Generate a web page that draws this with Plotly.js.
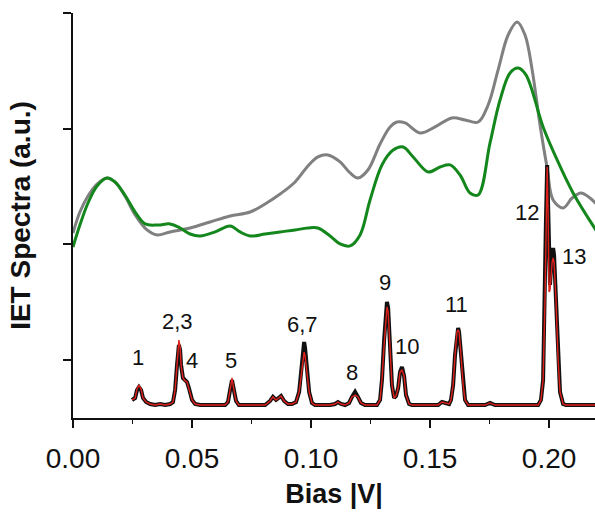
<!DOCTYPE html>
<html>
<head>
<meta charset="utf-8">
<script src="https://cdn.plot.ly/plotly-3.0.1.min.js"></script>
<style>html,body{margin:0;padding:0;background:#fff;}#chart{width:595px;height:515px;}</style>
</head>
<body>
<div id="chart"></div>
<script>
// Gray (upper) smooth spectrum
const grayBias = [0,0.0029,0.0063,0.0101,0.0143,0.0176,0.0218,0.0261,0.0311,0.0353,0.0408,0.0492,0.0576,0.0660,0.0744,0.0807,0.0870,0.0933,0.0987,0.1029,0.1071,0.1122,0.1164,0.1197,0.1239,0.1290,0.1332,0.1361,0.1395,0.1458,0.1521,0.1592,0.1647,0.1702,0.1744,0.1786,0.1828,0.1866,0.1899,0.1929,0.1962,0.1992,0.2017,0.2059,0.2097,0.2134,0.2172,0.2202];
const grayIET = [1.599,1.780,1.919,2.022,2.074,2.040,1.919,1.755,1.625,1.582,1.608,1.642,1.694,1.746,1.780,1.850,1.936,2.040,2.178,2.256,2.273,2.213,2.118,2.074,2.143,2.368,2.515,2.558,2.550,2.463,2.515,2.593,2.576,2.558,2.705,3.008,3.310,3.423,3.310,3.008,2.533,2.161,1.884,1.815,1.901,1.945,1.901,1.841];

// Green smooth spectrum
const greenBias = [0,0.0029,0.0063,0.0101,0.0143,0.0176,0.0218,0.0261,0.0303,0.0357,0.0408,0.0450,0.0492,0.0534,0.0597,0.0660,0.0702,0.0744,0.0807,0.0870,0.0933,0.0987,0.1029,0.1080,0.1122,0.1164,0.1206,0.1248,0.1298,0.1345,0.1387,0.1429,0.1492,0.1542,0.1584,0.1626,0.1668,0.1702,0.1752,0.1794,0.1836,0.1870,0.1903,0.1975,0.2034,0.2101,0.2202];
const greenIET = [1.478,1.668,1.858,2.005,2.074,2.040,1.927,1.780,1.677,1.668,1.677,1.642,1.590,1.573,1.608,1.659,1.608,1.573,1.590,1.608,1.625,1.642,1.642,1.573,1.504,1.487,1.582,1.884,2.187,2.316,2.342,2.256,2.126,2.169,2.187,2.100,1.945,1.927,2.377,2.748,2.982,3.025,2.965,2.515,2.230,1.945,1.608];

// Peak spectrum (black and red share bias values)
const peakBias = [0.0248,0.0261,0.0269,0.0277,0.0286,0.0294,0.0307,0.0324,0.0345,0.0366,0.0387,0.0408,0.0420,0.0429,0.0437,0.0441,0.0445,0.0450,0.0454,0.0462,0.0471,0.0479,0.0487,0.0500,0.0513,0.0534,0.0639,0.0651,0.0660,0.0668,0.0676,0.0685,0.0697,0.0807,0.0828,0.0840,0.0853,0.0866,0.0874,0.0887,0.0903,0.0920,0.0937,0.0950,0.0958,0.0966,0.0971,0.0975,0.0983,0.0992,0.1004,0.1017,0.1080,0.1101,0.1113,0.1126,0.1143,0.1160,0.1172,0.1185,0.1197,0.1210,0.1227,0.1277,0.1290,0.1298,0.1307,0.1315,0.1319,0.1324,0.1332,0.1340,0.1349,0.1357,0.1366,0.1374,0.1382,0.1391,0.1399,0.1412,0.1424,0.1534,0.1550,0.1563,0.1580,0.1588,0.1597,0.1605,0.1613,0.1618,0.1622,0.1630,0.1639,0.1647,0.1660,0.1731,0.1752,0.1773,0.1954,0.1966,0.1975,0.1983,0.1987,0.1992,0.1996,0.2000,0.2004,0.2008,0.2013,0.2017,0.2021,0.2029,0.2038,0.2046,0.2059,0.2071,0.2202];
const peakBlack = [0.156,0.173,0.242,0.268,0.242,0.173,0.138,0.121,0.112,0.121,0.112,0.121,0.138,0.242,0.458,0.588,0.631,0.588,0.458,0.346,0.320,0.311,0.259,0.156,0.121,0.112,0.112,0.138,0.242,0.328,0.242,0.147,0.112,0.112,0.147,0.182,0.156,0.182,0.190,0.147,0.121,0.121,0.138,0.225,0.415,0.605,0.657,0.605,0.415,0.225,0.130,0.112,0.112,0.121,0.138,0.121,0.112,0.130,0.182,0.225,0.182,0.130,0.112,0.112,0.156,0.328,0.674,0.951,1.003,0.951,0.631,0.285,0.173,0.190,0.259,0.398,0.441,0.363,0.199,0.121,0.112,0.112,0.138,0.130,0.121,0.156,0.285,0.545,0.743,0.778,0.743,0.545,0.285,0.156,0.112,0.112,0.130,0.112,0.112,0.156,0.328,1.020,1.711,2.187,1.798,1.193,1.150,1.296,1.435,1.469,1.409,1.020,0.501,0.225,0.121,0.112,0.112];
const peakRed = [0.156,0.173,0.251,0.285,0.251,0.173,0.138,0.121,0.112,0.121,0.112,0.121,0.138,0.242,0.458,0.588,0.674,0.614,0.458,0.346,0.320,0.311,0.259,0.156,0.121,0.112,0.112,0.138,0.242,0.346,0.242,0.147,0.112,0.112,0.147,0.182,0.156,0.182,0.190,0.147,0.121,0.121,0.138,0.225,0.372,0.536,0.570,0.536,0.372,0.225,0.130,0.112,0.112,0.121,0.138,0.121,0.112,0.130,0.182,0.199,0.182,0.130,0.112,0.112,0.156,0.328,0.631,0.916,0.959,0.916,0.631,0.285,0.173,0.190,0.259,0.398,0.415,0.363,0.199,0.121,0.112,0.112,0.138,0.130,0.121,0.156,0.285,0.545,0.743,0.761,0.743,0.545,0.285,0.156,0.112,0.112,0.130,0.112,0.112,0.156,0.328,1.020,1.711,2.169,1.755,1.089,1.106,1.236,1.348,1.383,1.348,1.020,0.501,0.225,0.121,0.112,0.112];

// Peak labels
const peakLabels = ["1","2,3","4","5","6,7","8","9","10","11","12","13"];
const labelBias = [0.0273,0.0441,0.0500,0.0664,0.0966,0.1172,0.1311,0.1403,0.1613,0.1908,0.2105];
const labelIET = [0.527,0.830,0.493,0.501,0.804,0.389,1.175,0.614,0.977,1.780,1.392];

const xTicks = [0, 0.05, 0.10, 0.15, 0.20];
const xTickText = ["0.00","0.05","0.10","0.15","0.20"];
const yTicks = [0.5, 1.5, 2.5, 3.5];

const FONT = "Liberation Sans, Arial, Helvetica, sans-serif";

const traces = [
  {x: grayBias, y: grayIET, mode: "lines", line: {color: "#808080", width: 3, shape: "spline", smoothing: 1}, hoverinfo: "skip"},
  {x: greenBias, y: greenIET, mode: "lines", line: {color: "#14871c", width: 3, shape: "spline", smoothing: 1}, hoverinfo: "skip"},
  {x: peakBias, y: peakBlack, mode: "lines", line: {color: "#111111", width: 4}, hoverinfo: "skip"},
  {x: peakBias, y: peakRed, mode: "lines", line: {color: "#e0201c", width: 1.4}, hoverinfo: "skip"}
];

const annotations = peakLabels.map((t, i) => ({
  x: labelBias[i], y: labelIET[i], xref: "x", yref: "y", text: t, showarrow: false,
  font: {family: FONT, size: 22, color: "#111"}, xanchor: "center", yanchor: "middle"
}));

const layout = {
  width: 595, height: 515,
  margin: {l: 73, r: 0, t: 13, b: 97},
  paper_bgcolor: "#fff", plot_bgcolor: "#fff",
  showlegend: false,
  font: {family: FONT, color: "#111"},
  xaxis: {
    range: [0, 0.2193], tickvals: xTicks, ticktext: xTickText,
    showline: true, linecolor: "#111", linewidth: 2,
    ticks: "outside", ticklen: 8, tickwidth: 2, tickcolor: "#111",
    minor: {ticks: "outside", dtick: 0.025, tick0: 0, ticklen: 4, tickwidth: 1.5, tickcolor: "#111"},
    showgrid: false, zeroline: false,
    ticklabelstandoff: 6,
    tickfont: {family: FONT, size: 28, color: "#111"},
    title: {text: "<b>Bias |V|</b>", font: {family: FONT, size: 27, color: "#111"}, standoff: 12}
  },
  yaxis: {
    range: [0, 3.5], tickvals: yTicks, showticklabels: false,
    showline: true, linecolor: "#111", linewidth: 2,
    ticks: "outside", ticklen: 8, tickwidth: 2, tickcolor: "#111",
    showgrid: false, zeroline: false,
    title: {text: "<b>IET Spectra (a.u.)</b>", font: {family: FONT, size: 28, color: "#111"}, standoff: 24}
  },
  annotations: annotations
};

Plotly.newPlot("chart", traces, layout, {displayModeBar: false, staticPlot: true});
</script>
</body>
</html>
